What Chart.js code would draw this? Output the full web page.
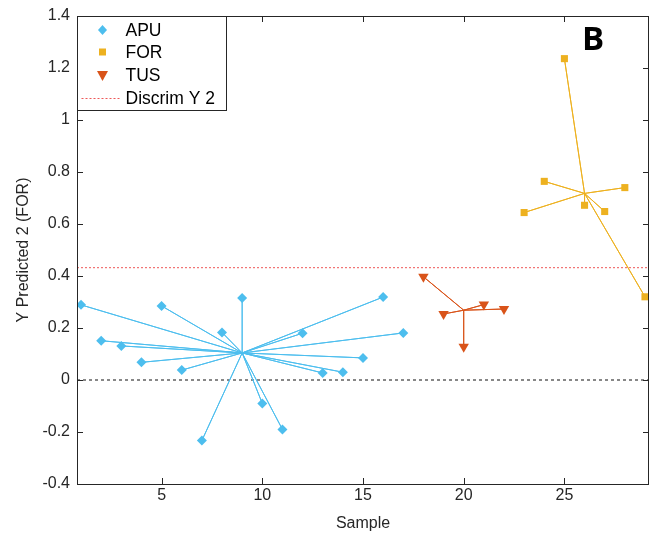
<!DOCTYPE html>
<html>
<head>
<meta charset="utf-8">
<title>Y Predicted 2</title>
<script src="https://cdn.jsdelivr.net/npm/chart.js@4.4.0/dist/chart.umd.min.js"></script>
<style>
  html, body { margin: 0; padding: 0; background: #fff; }
</style>
</head>
<body>
<canvas id="myChart" width="650" height="534"></canvas>
<script>
// sample numbers and predicted values per class
const apuSample = [1, 2, 3, 4, 5, 6, 7, 8, 9, 10, 11, 12, 13, 14, 15, 16, 17];
const apuY = [0.289, 0.151, 0.131, 0.068, 0.285, 0.038, -0.233, 0.183, 0.315, -0.090, -0.190, 0.180, 0.027, 0.030, 0.085, 0.319, 0.181];
const tusSample = [18, 19, 20, 21, 22];
const tusY = [0.397, 0.254, 0.128, 0.290, 0.273];
const forSample = [23, 24, 25, 26, 27, 28, 29];
const forY = [0.644, 0.764, 1.236, 0.672, 0.648, 0.740, 0.320];
const discrimY2 = 0.432;

const xTicks = [5, 10, 15, 20, 25];
const yTicks = [-0.4, -0.2, 0, 0.2, 0.4, 0.6, 0.8, 1, 1.2, 1.4];
const xMin = 0.8, xMax = 29.2;

const colAPU = '#4DBEEE';
const colFOR = '#EDB120';
const colTUS = '#D95319';
const axisCol = '#262626';

function points(xs, ys) {
    return xs.map((x, i) => ({ x: x, y: ys[i] }));
}

// lines from the class centroid out to each sample
function spokes(xs, ys) {
    const cx = xs.reduce((a, b) => a + b, 0) / xs.length;
    const cy = ys.reduce((a, b) => a + b, 0) / ys.length;
    const out = [];
    xs.forEach((x, i) => {
        out.push({ x: cx, y: cy });
        out.push({ x: x, y: ys[i] });
    });
    out.push({ x: cx, y: cy });
    return out;
}

function spokeSet(xs, ys, color) {
    return {
        data: spokes(xs, ys),
        showLine: true,
        borderColor: color,
        borderWidth: 1,
        pointRadius: 0,
        order: 2
    };
}

function markerSet(label, xs, ys, color, style, radius, rotation) {
    return {
        label: label,
        data: points(xs, ys),
        showLine: false,
        pointStyle: style,
        pointRadius: radius,
        rotation: rotation || 0,
        backgroundColor: color,
        borderColor: color,
        borderWidth: 0,
        order: 0
    };
}

const frame = {
    id: 'frame',
    afterDraw(chart) {
        const ctx = chart.ctx;
        const a = chart.chartArea;
        const xs = chart.scales.x, ys = chart.scales.y;
        ctx.save();
        ctx.strokeStyle = axisCol;
        ctx.lineWidth = 1;
        ctx.beginPath();
        ctx.rect(Math.round(a.left) + 0.5, Math.round(a.top) + 0.5,
                 Math.round(a.right - a.left) - 1, Math.round(a.bottom - a.top));
        ctx.stroke();

        // inward ticks on all four sides
        const tl = 6;
        ctx.beginPath();
        xTicks.forEach(v => {
            const px = Math.round(xs.getPixelForValue(v)) + 0.5;
            ctx.moveTo(px, a.bottom); ctx.lineTo(px, a.bottom - tl);
            ctx.moveTo(px, a.top); ctx.lineTo(px, a.top + tl);
        });
        yTicks.forEach(v => {
            const py = Math.round(ys.getPixelForValue(v)) + 0.5;
            ctx.moveTo(a.left, py); ctx.lineTo(a.left + tl, py);
            ctx.moveTo(a.right, py); ctx.lineTo(a.right - tl, py);
        });
        ctx.stroke();

        // legend box
        const lx = Math.round(a.left) + 0.5, ly = Math.round(a.top) + 0.5;
        const lw = 149, lh = 94;
        ctx.fillStyle = '#fff';
        ctx.fillRect(lx, ly, lw, lh);
        ctx.strokeRect(lx, ly, lw, lh);

        const mx = lx + 25, tx = lx + 48;
        const rows = [30, 52, 75, 98];
        ctx.font = '17.5px "Liberation Sans", Arial, sans-serif';
        ctx.textBaseline = 'middle';
        ctx.textAlign = 'left';

        // APU diamond
        ctx.fillStyle = colAPU;
        ctx.beginPath();
        ctx.moveTo(mx, rows[0] - 5); ctx.lineTo(mx + 4.5, rows[0]);
        ctx.lineTo(mx, rows[0] + 5); ctx.lineTo(mx - 4.5, rows[0]);
        ctx.closePath(); ctx.fill();
        // FOR square
        ctx.fillStyle = colFOR;
        ctx.fillRect(mx - 3.5, rows[1] - 3.5, 7, 7);
        // TUS triangle
        ctx.fillStyle = colTUS;
        ctx.beginPath();
        ctx.moveTo(mx - 5.5, rows[2] - 4); ctx.lineTo(mx + 5.5, rows[2] - 4);
        ctx.lineTo(mx, rows[2] + 6);
        ctx.closePath(); ctx.fill();
        // discriminant line
        ctx.strokeStyle = 'rgba(236, 70, 70, 0.9)';
        ctx.setLineDash([2, 2]);
        ctx.beginPath();
        ctx.moveTo(lx + 4, rows[3] + 0.5); ctx.lineTo(lx + 44, rows[3] + 0.5);
        ctx.stroke();
        ctx.setLineDash([]);

        ctx.fillStyle = '#000';
        ['APU', 'FOR', 'TUS', 'Discrim Y 2'].forEach((t, i) => ctx.fillText(t, tx, rows[i] + 1));

        // panel letter
        ctx.font = 'bold 33px "Open Sans", "Liberation Sans", sans-serif';
        ctx.textAlign = 'center';
        ctx.fillText('B', 593, 41);
        ctx.restore();
    }
};

const config = {
    type: 'scatter',
    data: {
        datasets: [
            {
                data: [{ x: xMin, y: 0 }, { x: xMax, y: 0 }],
                showLine: true,
                borderColor: '#111',
                borderWidth: 1,
                borderDash: [3, 3],
                pointRadius: 0,
                order: 3
            },
            {
                data: [{ x: xMin, y: discrimY2 }, { x: xMax, y: discrimY2 }],
                showLine: true,
                borderColor: 'rgba(236, 70, 70, 0.9)',
                borderWidth: 1,
                borderDash: [2, 2],
                pointRadius: 0,
                order: 3
            },
            spokeSet(apuSample, apuY, colAPU),
            spokeSet(forSample, forY, colFOR),
            spokeSet(tusSample, tusY, colTUS),
            markerSet('APU', apuSample, apuY, colAPU, 'rectRot', 5),
            markerSet('FOR', forSample, forY, colFOR, 'rect', 5),
            markerSet('TUS', tusSample, tusY, colTUS, 'triangle', 6, 180)
        ]
    },
    options: {
        responsive: false,
        animation: false,
        layout: { autoPadding: false, padding: { top: 16, right: 1, left: 0, bottom: 0 } },
        plugins: {
            legend: { display: false },
            tooltip: { enabled: false }
        },
        scales: {
            x: {
                type: 'linear',
                min: xMin,
                max: xMax,
                afterBuildTicks: s => { s.ticks = xTicks.map(v => ({ value: v })); },
                afterFit: s => { s.height = 50; s.paddingLeft = 0; s.paddingRight = 0; },
                grid: { display: false, drawTicks: false },
                border: { display: false },
                ticks: {
                    padding: 2,
                    color: axisCol,
                    font: { family: '"Liberation Sans", Arial, sans-serif', size: 16 }
                },
                title: {
                    display: true,
                    text: 'Sample',
                    color: axisCol,
                    padding: { top: 0, bottom: 1 },
                    font: { family: '"Liberation Sans", Arial, sans-serif', size: 16 }
                }
            },
            y: {
                type: 'linear',
                min: -0.4,
                max: 1.4,
                afterBuildTicks: s => { s.ticks = yTicks.map(v => ({ value: v })); },
                afterFit: s => { s.width = 77; s.paddingTop = 0; s.paddingBottom = 0; },
                grid: { display: false, drawTicks: false },
                border: { display: false },
                ticks: {
                    padding: 7,
                    color: axisCol,
                    callback: v => String(Number(v.toFixed(1))),
                    font: { family: '"Liberation Sans", Arial, sans-serif', size: 16 }
                },
                title: {
                    display: true,
                    text: 'Y Predicted 2 (FOR)',
                    color: axisCol,
                    padding: { top: 14, bottom: 0 },
                    font: { family: '"Liberation Sans", Arial, sans-serif', size: 16 }
                }
            }
        }
    },
    plugins: [frame]
};

var myChart = new Chart(document.getElementById('myChart'), config);
</script>
</body>
</html>
